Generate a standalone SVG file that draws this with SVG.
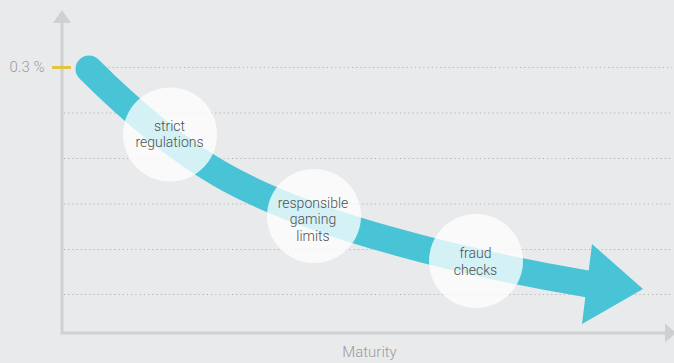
<svg xmlns="http://www.w3.org/2000/svg" width="674" height="363" viewBox="0 0 674 363">
<style>
.grid{stroke:#b3b4b6;stroke-width:1.2;stroke-dasharray:1.2 3;fill:none}
.axis{stroke:#cfd0d2;stroke-width:3;fill:none}
.axhead{fill:#cfd0d2}
.bubble{fill:#ffffff;fill-opacity:0.77}
.lbl{font-family:Roboto,"Liberation Sans",sans-serif;font-weight:300;font-size:14px;fill:#4f5052;text-anchor:middle}
.axlbl{font-family:Roboto,"Liberation Sans",sans-serif;font-weight:300;fill:#9a9b9d}
</style>
<rect x="0" y="0" width="674" height="363" fill="#e9eaec"/>
<g id="grid">
<line class="grid" x1="100" y1="67.5" x2="672" y2="67.5"/>
<line class="grid" x1="64" y1="113" x2="672" y2="113"/>
<line class="grid" x1="64" y1="158.5" x2="672" y2="158.5"/>
<line class="grid" x1="64" y1="204" x2="672" y2="204"/>
<line class="grid" x1="64" y1="249.5" x2="672" y2="249.5"/>
<line class="grid" x1="64" y1="294.5" x2="672" y2="294.5"/>
</g>
<g id="axes">
<polyline class="axis" points="62,20 62,333 666,333"/>
<polygon class="axhead" points="62,10 53,23 71,23"/>
<polygon class="axhead" points="665,323.5 676,333 665,342.5"/>
<line x1="52" y1="67.5" x2="71" y2="67.5" stroke="#e5c53f" stroke-width="3"/>
<text class="axlbl" x="44.5" y="72" font-size="15" text-anchor="end">0.3 %</text>
<text class="axlbl" x="369.5" y="357" font-size="15" text-anchor="middle">Maturity</text>
</g>
<g id="connectors">
<path d="M89 69 C129 109 175 148 220 174 C310 226 467 263.6 588 284" fill="none" stroke="#48c4d6" stroke-width="27" stroke-linecap="round"/>
<polygon points="592,244 643,289 582,324" fill="#48c4d6"/>
</g>
<g id="node-strict-regulations">
<circle class="bubble" cx="170" cy="134.5" r="47"/>
<text class="lbl" x="169.5" y="130.5">strict</text>
<text class="lbl" x="169.5" y="147">regulations</text>
</g>
<g id="node-responsible-gaming-limits">
<circle class="bubble" cx="314" cy="216" r="47"/>
<text class="lbl" x="313" y="207.5">responsible</text>
<text class="lbl" x="313" y="224">gaming</text>
<text class="lbl" x="313" y="240.5">limits</text>
</g>
<g id="node-fraud-checks">
<circle class="bubble" cx="476" cy="261" r="47"/>
<text class="lbl" x="475.5" y="258">fraud</text>
<text class="lbl" x="475.5" y="274.5">checks</text>
</g>
</svg>
